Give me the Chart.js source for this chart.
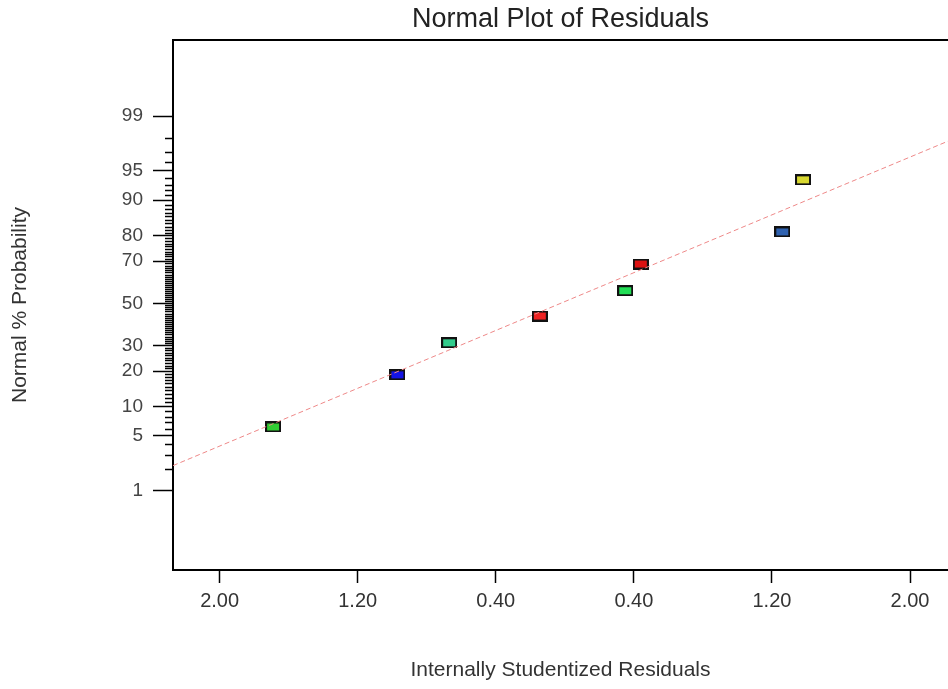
<!DOCTYPE html>
<html>
<head>
<meta charset="utf-8">
<script src="https://cdn.jsdelivr.net/npm/chart.js@4"></script>
<style>
  html, body { margin:0; padding:0; background:#fff; overflow:hidden; }
  #wrap { width:948px; height:689px; position:relative; }
</style>
</head>
<body>
<div id="wrap"><canvas id="chart" width="948" height="689"></canvas></div>
<script>
/* ===== data ===== */
const residuals = [-1.69, -0.97, -0.67, -0.145, 0.35, 0.44, 1.26, 1.38];
const probPct   = [6.25, 18.75, 31.25, 43.75, 56.25, 68.75, 81.25, 93.75];
const pointColors = ["#33cc33", "#1414e6", "#33cc8c", "#ee2222", "#22dd55", "#dd1111", "#2f62b0", "#d8d830"];

const fitResid = [-2.27, 2.22];
const fitPct   = [2.2, 97.8];

const xTickValues = [-2.0, -1.2, -0.4, 0.4, 1.2, 2.0];
const yMajorPct   = [1, 5, 10, 20, 30, 50, 70, 80, 90, 95, 99];

const FONT = "'Liberation Sans', Arial, sans-serif";

/* ===== normal quantile (probability scale) ===== */
function probit(p){
  const a=[-39.69683028665376,220.9460984245205,-275.9285104469687,138.3577518672690,-30.66479806614716,2.506628277459239];
  const b=[-54.47609879822406,161.5858368580409,-155.6989798598866,66.80131188771972,-13.28068155288572];
  const c=[-0.007784894002430293,-0.3223964580411365,-2.400758277161838,-2.549732539343734,4.374664141464968,2.938163982698783];
  const d=[0.007784695709041462,0.3224671290700398,2.445134137142996,3.754408661907416];
  const pl=0.02425;
  let q,r;
  if(p<pl){
    q=Math.sqrt(-2*Math.log(p));
    return (((((c[0]*q+c[1])*q+c[2])*q+c[3])*q+c[4])*q+c[5])/((((d[0]*q+d[1])*q+d[2])*q+d[3])*q+1);
  }
  if(p>1-pl){
    q=Math.sqrt(-2*Math.log(1-p));
    return -(((((c[0]*q+c[1])*q+c[2])*q+c[3])*q+c[4])*q+c[5])/((((d[0]*q+d[1])*q+d[2])*q+d[3])*q+1);
  }
  q=p-0.5; r=q*q;
  return (((((a[0]*r+a[1])*r+a[2])*r+a[3])*r+a[4])*r+a[5])*q/(((((b[0]*r+b[1])*r+b[2])*r+b[3])*r+b[4])*r+1);
}

/* ===== rectangle markers ===== */
function rectMarker(color){
  const c=document.createElement("canvas");
  c.width=16; c.height=11;
  const g=c.getContext("2d");
  g.fillStyle="#111"; g.fillRect(0,0,16,11);
  g.fillStyle=color; g.fillRect(2,2,12,7);
  return c;
}

/* ===== plugins ===== */
const frame = {
  id:"frame",
  afterDraw(chart){
    const {ctx, chartArea:a, scales} = chart;
    ctx.save();
    ctx.strokeStyle="#000"; ctx.lineWidth=2;
    ctx.beginPath(); ctx.moveTo(a.left, a.top); ctx.lineTo(a.right, a.top); ctx.stroke();
    // minor probability ticks
    const y=scales.y;
    ctx.lineWidth=1.5;
    for(let p=1;p<=99;p++){
      if(yMajorPct.includes(p)) continue;
      const py=Math.round(y.getPixelForValue(probit(p/100)))+0.5;
      ctx.beginPath(); ctx.moveTo(a.left-8, py); ctx.lineTo(a.left, py); ctx.stroke();
    }
    // title
    ctx.fillStyle="#222";
    ctx.font="27px "+FONT;
    ctx.textAlign="center"; ctx.textBaseline="middle";
    ctx.fillText("Normal Plot of Residuals", (a.left+a.right)/2, 20);
    ctx.restore();
  }
};

/* ===== chart ===== */
new Chart(document.getElementById("chart"), {
  type:"scatter",
  data:{
    datasets:[
      {
        label:"fit",
        type:"line",
        data: fitResid.map((x,i)=>({x, y: probit(fitPct[i]/100)})),
        borderColor:"#ee8888",
        borderWidth:1,
        borderDash:[5,3],
        pointRadius:0,
        fill:false
      },
      {
        label:"residuals",
        data: residuals.map((x,i)=>({x, y: probit(probPct[i]/100)})),
        pointStyle: pointColors.map(rectMarker),
        pointRadius:8
      }
    ]
  },
  options:{
    responsive:false,
    animation:false,
    events:[],
    layout:{ autoPadding:false, padding:{ top:40, right:0, left:0, bottom:0 } },
    plugins:{ legend:{display:false}, tooltip:{enabled:false}, title:{display:false} },
    scales:{
      x:{
        type:"linear",
        min:-2.27, max:2.22,
        afterFit(s){ s.height=119; s.paddingLeft=0; s.paddingRight=0; },
        afterBuildTicks(s){ s.ticks = xTickValues.map(v=>({value:v})); },
        border:{ display:true, color:"#000", width:2 },
        grid:{ drawOnChartArea:false, drawTicks:true, tickLength:13, tickColor:"#000", tickWidth:1.5 },
        ticks:{ padding:6, color:"#333", font:{family:FONT, size:20}, maxRotation:0,
                callback:(v)=>Math.abs(v).toFixed(2) },
        title:{ display:true, text:"Internally Studentized Residuals", color:"#333",
                font:{family:FONT, size:21}, padding:{top:6, bottom:6} }
      },
      y:{
        type:"linear",
        min:-3.31, max:3.27,
        afterFit(s){ s.width=173; s.paddingTop=0; s.paddingBottom=0; },
        afterBuildTicks(s){ s.ticks = yMajorPct.map(p=>({value:probit(p/100)})); },
        border:{ display:true, color:"#000", width:2 },
        grid:{ drawOnChartArea:false, drawTicks:true, tickLength:20, tickColor:"#000", tickWidth:1.5 },
        ticks:{ padding:10, color:"#444", font:{family:FONT, size:19},
                callback:(v,i)=>String(yMajorPct[i]) },
        title:{ display:true, text:"Normal % Probability", color:"#333",
                font:{family:FONT, size:21}, padding:{top:8, bottom:0} }
      }
    }
  },
  plugins:[frame]
});
</script>
</body>
</html>
